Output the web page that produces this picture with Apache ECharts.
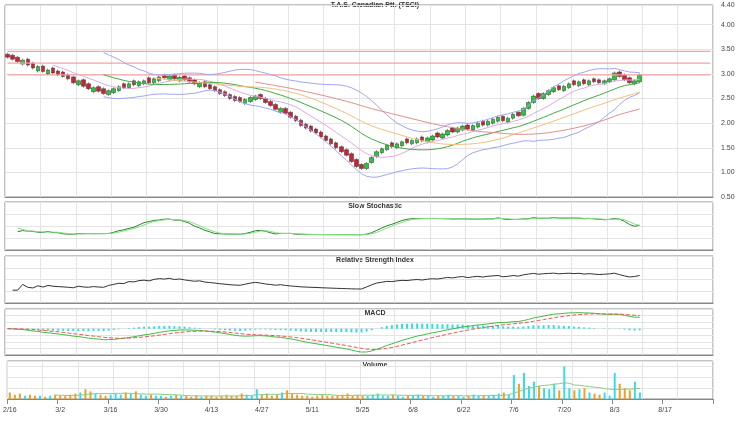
<!DOCTYPE html><html><head><meta charset="utf-8">
<script src="https://cdn.jsdelivr.net/npm/echarts@6/dist/echarts.min.js"></script>
<style>html,body{margin:0;background:#fff}#c{width:750px;height:422px}</style></head><body><div id="c"></div>
<script>
const closes=[3.34,3.30,3.25,3.28,3.18,3.12,3.15,3.05,3.08,3.02,2.98,
2.95,2.90,2.82,2.86,2.75,2.70,2.72,2.65,2.60,2.66,
2.70,2.74,2.72,2.80,2.78,2.84,2.86,2.82,2.90,2.94,2.92,2.96,2.90,2.93,2.88,
2.84,2.80,2.82,2.74,2.70,2.66,2.60,2.56,2.50,2.46,2.44,2.48,2.52,2.55,2.50,
2.42,2.36,2.28,2.30,2.20,2.12,2.05,1.95,1.90,1.84,
1.80,1.72,1.65,1.58,1.50,1.42,1.35,1.22,1.12,1.08,
1.18,1.30,1.42,1.48,1.55,1.52,1.58,1.62,1.60,1.65,1.68,1.64,1.70,1.74,1.72,
1.78,1.85,1.82,1.90,1.94,1.88,1.95,2.00,1.96,2.04,
2.08,2.12,2.05,2.10,2.18,2.15,2.30,2.42,2.55,2.50,
2.60,2.66,2.72,2.68,2.75,2.80,2.78,2.84,2.80,2.86,
2.84,2.82,2.86,2.90,3.02,2.95,2.88,2.82,2.86,2.98];
const opens=[3.40,3.38,3.34,3.20,3.30,3.22,3.06,3.16,3.00,3.12,3.06,
3.04,2.98,2.94,2.78,2.88,2.80,2.64,2.74,2.70,2.58,
2.62,2.66,2.80,2.72,2.86,2.76,2.80,2.92,2.82,2.86,2.98,2.88,2.98,2.86,2.96,
2.92,2.88,2.74,2.84,2.78,2.74,2.68,2.64,2.58,2.54,2.52,2.40,2.44,2.48,2.58,
2.50,2.44,2.38,2.22,2.30,2.22,2.14,2.06,1.98,1.94,
1.88,1.82,1.74,1.68,1.60,1.52,1.46,1.38,1.26,1.16,
1.08,1.20,1.32,1.40,1.46,1.60,1.50,1.54,1.68,1.58,1.60,1.72,1.62,1.66,1.80,
1.70,1.76,1.90,1.82,1.86,1.96,1.86,1.92,2.04,1.96,
2.00,2.04,2.14,2.02,2.10,2.22,2.16,2.30,2.42,2.60,
2.50,2.58,2.64,2.76,2.66,2.72,2.86,2.76,2.88,2.78,
2.90,2.88,2.80,2.84,2.88,3.04,2.98,2.92,2.80,2.84];
const volumes=[6,4,5,3,4,3,3,2,3,4,3,3,4,5,6,9,7,5,4,3,4,5,4,6,5,7,4,3,4,3,3,2,3,4,3,
3,2,3,2,3,3,2,3,4,3,3,5,4,3,9,4,5,3,4,6,8,5,4,3,3,2,3,4,3,3,3,4,5,3,4,3,3,4,5,3,3,
4,3,2,3,3,4,3,3,2,3,3,4,3,3,2,3,4,3,3,3,4,5,6,4,
22,14,24,12,16,12,10,9,14,8,30,10,8,9,10,6,5,4,6,3,24,14,10,8,16,6];
const levels=[3.46,3.22,2.98];
const title='T.A.S. Canadian Ptt. (TSCI)';
const N=140;
const dates=[];{let d=new Date(2010,1,16);while(dates.length<N){if(d.getDay()%6){dates.push((d.getMonth()+1)+'/'+d.getDate());}d.setDate(d.getDate()+1);}}
const pad=a=>a.concat(Array(N-a.length).fill('-'));
const candle=closes.map((c,i)=>{const o=opens[i];return [o,c,Math.min(o,c)-0.03,Math.max(o,c)+0.03];});
const sma=(a,n)=>a.map((_,i)=>i<n-1?'-':+(a.slice(i-n+1,i+1).reduce((s,v)=>s+v,0)/n).toFixed(3));
const ema=(a,n)=>{const k=2/(n+1);let e=a[0];return a.map(v=>e=v*k+e*(1-k));};
const sd=(a,n)=>a.map((_,i)=>{if(i<n-1)return null;const s=a.slice(i-n+1,i+1);const m=s.reduce((x,y)=>x+y,0)/n;return Math.sqrt(s.reduce((x,y)=>x+(y-m)**2,0)/n);});
const m20=sma(closes,20),s20=sd(closes,20);
const bu=m20.map((m,i)=>m==='-'?'-':+(m+2*s20[i]).toFixed(3)),bl=m20.map((m,i)=>m==='-'?'-':+(m-2*s20[i]).toFixed(3));
const k14=closes.map((c,i)=>{const s=candle.slice(Math.max(0,i-13),i+1);const lo=Math.min(...s.map(x=>x[2])),hi=Math.max(...s.map(x=>x[3]));return (c-lo)/(hi-lo)*100;});
const slowK=sma(k14,3),slowD=sma(slowK.map(v=>v==='-'?50:v),3);
const rsi=(()=>{let g=0,l=0;return closes.map((c,i)=>{if(!i)return '-';const d=c-closes[i-1];g=(g*13+Math.max(d,0))/14;l=(l*13+Math.max(-d,0))/14;return l?100-100/(1+g/l):100;});})();
const e26=ema(closes,26),macd=ema(closes,12).map((v,i)=>v-e26[i]),sig=ema(macd,9),hist=macd.map((v,i)=>v-sig[i]);
const vma=sma(volumes,10);
const up='#22cc33',dn='#cc2233';
const grids=[[5,192],[202,48],[256,47],[309,46],[361,38]];
const g=grids.map(([t,h])=>({left:5,right:37,top:t,height:h,show:true,borderColor:'#888',borderWidth:1}));
const xa=grids.map((_,i)=>({type:'category',gridIndex:i,data:dates,boundaryGap:true,axisTick:{show:i==4},axisLine:{onZero:false,lineStyle:{color:'#888'}},
 axisLabel:{show:i==4,fontSize:7,color:'#444',interval:9},splitLine:{show:true,interval:6,lineStyle:{color:'#e4e4e4'}}}));
const yax=(i,o)=>Object.assign({type:'value',gridIndex:i,position:'right',scale:true,axisLine:{show:false},axisTick:{show:false},
 axisLabel:{fontSize:7,color:'#444',margin:4},splitLine:{lineStyle:{color:'#e4e4e4'}}},o);
const ya=[yax(0,{min:0.5,max:4.4,interval:0.5,axisLabel:{fontSize:7,color:'#444',formatter:v=>v.toFixed(2)}}),
 yax(1,{min:-80,max:180,interval:65,axisLabel:{show:false}}),yax(2,{min:-60,max:160,interval:55,axisLabel:{show:false}}),
 yax(3,{axisLabel:{show:false}}),yax(4,{min:0,max:35,axisLabel:{show:false}})];
const ln=(d,c,xi,w,t)=>({type:'line',data:pad(d),xAxisIndex:xi,yAxisIndex:xi,symbol:'none',lineStyle:{color:c,width:w||1,type:t||'solid'},silent:true});
const lab=(t,y)=>({type:'text',left:'center',top:y,style:{text:t,fill:'#333',font:'bold 7px sans-serif'}});
const chart=echarts.init(document.getElementById('c'));
chart.setOption({animation:false,backgroundColor:'#fff',grid:g,xAxis:xa,yAxis:ya,
graphic:[lab(title,2),lab('Slow Stochastic',203),lab('Relative Strength Index',257),lab('MACD',310),lab('Volume',362)],
series:[
 ...levels.map(v=>ln(Array(N).fill(v),'#f4a4a4',0,1.2)),
 {type:'candlestick',data:pad(candle),itemStyle:{color:up,color0:dn,borderColor:'#333',borderColor0:'#333',borderWidth:0.5},barWidth:4},
 ln(bu,'#a0a6f0',0),ln(bl,'#a0a6f0',0),ln(sma(closes,10),'#ddaadd',0),ln(m20,'#44aa44',0),ln(sma(closes,30),'#f0c080',0),ln(sma(closes,50),'#e09090',0),
 ln(slowK,'#228822',1),ln(slowD,'#88dd88',1),
 ln(rsi,'#333',2),
 {type:'bar',data:pad(hist.map(v=>+v.toFixed(4))),xAxisIndex:3,yAxisIndex:3,barWidth:2,itemStyle:{color:'#33dddd'}},
 ln(macd,'#44bb44',3),ln(sig,'#ee5555',3,1,'dashed'),
 {type:'bar',data:pad(volumes.map((v,i)=>({value:v,itemStyle:{color:closes[i]>=opens[i]?'#33ddee':'#f0a020'}}))),xAxisIndex:4,yAxisIndex:4,barWidth:2},
 ln(vma,'#88cc88',4)
]});
</script></body></html>
